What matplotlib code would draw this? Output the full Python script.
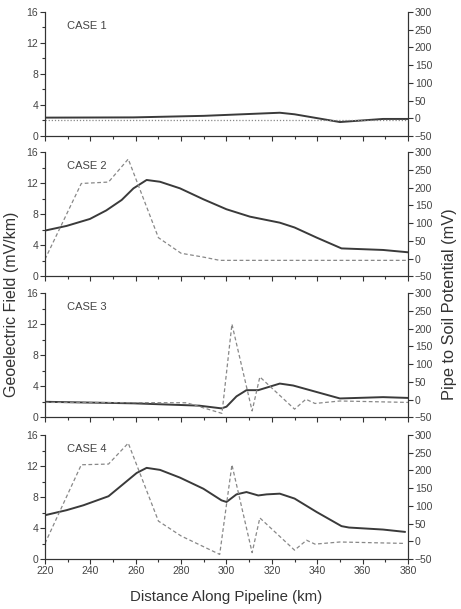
import matplotlib
matplotlib.use("Agg")
import matplotlib.pyplot as plt
from matplotlib.ticker import MultipleLocator

plt.rcParams["font.family"] = ["Liberation Sans", "DejaVu Sans"]

# Geoelectric field (mV/km), solid lines
field_km = {
    1: [220, 259, 290, 323.5, 330, 350, 369, 380],
    2: [220, 229.5, 239.8, 247, 253.8, 259, 264.8, 270.7, 279.5, 289.8, 300,
        310.3, 323.5, 330, 339.7, 350.7, 369, 380],
    3: [220, 259, 288, 297.8, 300, 304.4, 308.8, 314, 323.5, 329.4, 350, 369, 380],
    4: [220, 229.5, 236.9, 248, 253.8, 260.4, 264.8, 270.7, 279.5, 289.8, 297.8,
        300, 304.4, 308.8, 314, 317.7, 323.5, 330, 339.7, 350.7, 354, 369, 378.6],
}
field_val = {
    1: [2.37, 2.4, 2.6, 3.0, 2.8, 1.8, 2.2, 2.2],
    2: [5.9, 6.5, 7.4, 8.5, 9.85, 11.35, 12.43, 12.2, 11.35, 9.94, 8.65,
        7.7, 6.92, 6.3, 5.0, 3.6, 3.4, 3.1],
    3: [2.0, 1.8, 1.5, 1.15, 1.37, 2.7, 3.5, 3.5, 4.35, 4.1, 2.43, 2.6, 2.5],
    4: [5.65, 6.3, 6.93, 8.1, 9.5, 11.1, 11.76, 11.5, 10.5, 9.07, 7.57,
        7.36, 8.34, 8.64, 8.2, 8.34, 8.43, 7.8, 6.07, 4.24, 4.06, 3.8, 3.5],
}

# Pipe to soil potential (mV), dashed lines
pot_km = {
    1: [220, 380],
    2: [220, 236, 248, 256.7, 270, 280, 290, 297, 380],
    3: [220, 282.4, 298, 302.4, 311.3, 314.7, 330, 335, 339, 350, 380],
    4: [220, 236, 248, 256.7, 270, 280, 297, 302.4, 311.3, 314.7, 330, 335.3,
        339, 350, 378.6],
}
pot_val = {
    1: [-6, -6],
    2: [-2, 212, 216, 281, 59, 15, 4, -5, -5],
    3: [-8, -9, -39, 213, -32, 64, -27, 1, -11, -4, -8],
    4: [-6, 216, 218, 277, 57, 15, -37, 216, -32, 66, -25, 3, -8, -2, -6],
}

case_labels = ["CASE 1", "CASE 2", "CASE 3", "CASE 4"]
x_ticks = [220, 240, 260, 280, 300, 320, 340, 360, 380]
left_ticks = [0, 4, 8, 12, 16]
right_ticks = [-50, 0, 50, 100, 150, 200, 250, 300]

fig = plt.figure(figsize=(4.61, 6.09), dpi=100)
left, width, height = 0.0976, 0.7874, 0.2036
bottoms = [0.7767, 0.5463, 0.3148, 0.0821]

tick_col = "#333333"
for i, b in enumerate(bottoms):
    case = i + 1
    ax = fig.add_axes([left, b, width, height])
    ax2 = ax.twinx()
    ax.plot(field_km[case], field_val[case], color="#3a3a3a", lw=1.4, zorder=3)
    ls = (0, (1, 1.5)) if case == 1 else (0, (3, 2))
    ax2.plot(pot_km[case], pot_val[case], color="#888888", lw=0.9, ls=ls)

    ax.set_xlim(220, 380)
    ax.set_ylim(0, 16)
    ax2.set_ylim(-50, 300)
    ax.set_xticks(x_ticks)
    ax.xaxis.set_minor_locator(MultipleLocator(10))
    ax.set_yticks(left_ticks)
    ax.yaxis.set_minor_locator(MultipleLocator(2))
    ax2.set_yticks(right_ticks)

    for a in (ax, ax2):
        a.spines["top"].set_visible(False)
        for s in a.spines.values():
            s.set_color(tick_col)
            s.set_linewidth(0.8)
    ax.tick_params(which="both", direction="out", colors=tick_col, labelsize=7.5,
                   width=0.8, pad=1.5)
    ax.tick_params(which="major", length=3.5)
    ax.tick_params(which="minor", length=2)
    ax2.tick_params(direction="out", colors=tick_col, labelsize=7.5, length=3.5,
                    width=0.8, pad=1.5)
    for lab in ax.get_xticklabels() + ax.get_yticklabels() + ax2.get_yticklabels():
        lab.set_color("#444444")
    if case != 4:
        ax.tick_params(axis="x", labelbottom=False)
    ax.text(0.06, 0.93, case_labels[i], transform=ax.transAxes, fontsize=8,
            color="#444444", va="top", ha="left")

fig.text(0.025, 0.5, "Geoelectric Field (mV/km)", rotation=90, va="center",
         ha="center", fontsize=11.5, color="#333333")
fig.text(0.975, 0.5, "Pipe to Soil Potential (mV)", rotation=90, va="center",
         ha="center", fontsize=11.8, color="#333333")
fig.text(left + width / 2, 0.019, "Distance Along Pipeline (km)", va="center",
         ha="center", fontsize=10.8, color="#333333")

fig.savefig("out.png", dpi=100)
